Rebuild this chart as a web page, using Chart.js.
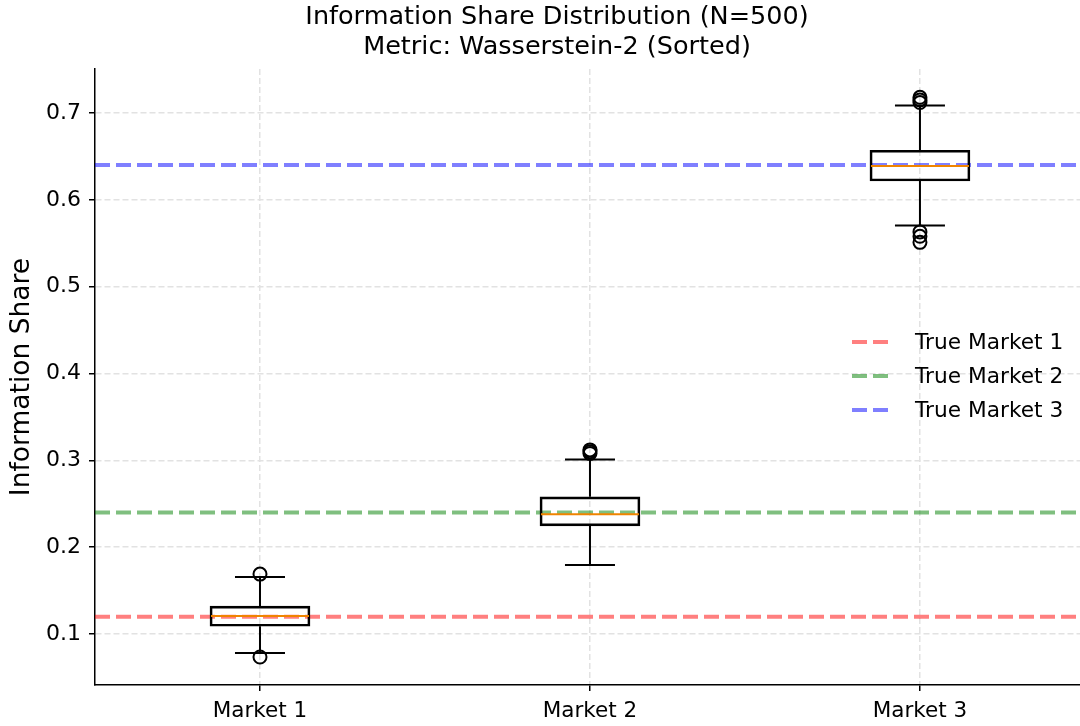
<!DOCTYPE html>
<html>
<head>
<meta charset="utf-8">
<script src="https://cdn.jsdelivr.net/npm/chart.js@4.4.1/dist/chart.umd.min.js"></script>
<style>
    html, body { margin: 0; padding: 0; background: #fff; }
    #wrap { width: 1080px; height: 726px; }
</style>
</head>
<body>
<div id="wrap"><canvas id="chart" width="1080" height="726"></canvas></div>
<script>
// --- Data ---
const categories = ['Market 1', 'Market 2', 'Market 3'];
const q1 = [0.109, 0.2246, 0.6216];
const medians = [0.1207, 0.238, 0.639];
const q3 = [0.1322, 0.258, 0.657];
const whiskerLow = [0.0781, 0.1794, 0.5703];
const whiskerHigh = [0.1656, 0.301, 0.7087];
const outliers = [
    [0.169, 0.0735],
    [0.308, 0.310, 0.312],
    [0.712, 0.715, 0.718, 0.563, 0.558, 0.551]
];
const trueLabels = ['True Market 1', 'True Market 2', 'True Market 3'];
const trueShares = [0.12, 0.24, 0.64];
const trueColors = ['rgba(255,0,0,0.5)', 'rgba(0,128,0,0.5)', 'rgba(0,0,255,0.5)'];
const yTicks = [0.1, 0.2, 0.3, 0.4, 0.5, 0.6, 0.7];

const titleLines = ['Information Share Distribution (N=500)', 'Metric: Wasserstein-2 (Sorted)'];
const yLabel = 'Information Share';

const FONT = '"DejaVu Sans", sans-serif';
const X_MIN = 0.5, X_MAX = 3.485;

// --- Datasets ---
const trueLineSets = trueShares.map((v, i) => ({
    type: 'line',
    label: trueLabels[i],
    data: [{ x: X_MIN, y: v }, { x: X_MAX, y: v }],
    borderColor: trueColors[i],
    borderWidth: 4,
    borderDash: [15, 6],
    pointRadius: 0,
    order: 3
}));

const boxSet = {
    type: 'bar',
    label: 'box',
    data: categories.map((c, i) => ({ x: i + 1, y: [q1[i], q3[i]] })),
    backgroundColor: 'rgba(0,0,0,0)',
    borderColor: '#000',
    borderWidth: 2,
    borderSkipped: false,
    barThickness: 100,
    order: 1
};

const outlierSet = {
    type: 'scatter',
    label: 'outliers',
    data: outliers.flatMap((arr, i) => arr.map(v => ({ x: i + 1, y: v }))),
    pointStyle: 'circle',
    pointRadius: 6.5,
    pointBorderWidth: 2,
    pointBorderColor: '#000',
    pointBackgroundColor: 'rgba(0,0,0,0)',
    order: 0
};

// --- Plugins ---
const boxParts = {
    id: 'boxParts',
    afterDatasetsDraw(chart) {
        const ctx = chart.ctx;
        const y = chart.scales.y;
        const meta = chart.getDatasetMeta(chart.data.datasets.indexOf(boxSet));
        ctx.save();
        meta.data.forEach((bar, i) => {
            const cx = bar.x;
            const half = bar.width / 2;
            ctx.strokeStyle = '#000';
            ctx.lineWidth = 2;
            ctx.beginPath();
            // whiskers
            ctx.moveTo(cx, y.getPixelForValue(q1[i]));
            ctx.lineTo(cx, y.getPixelForValue(whiskerLow[i]));
            ctx.moveTo(cx, y.getPixelForValue(q3[i]));
            ctx.lineTo(cx, y.getPixelForValue(whiskerHigh[i]));
            // caps
            ctx.moveTo(cx - half / 2, y.getPixelForValue(whiskerLow[i]));
            ctx.lineTo(cx + half / 2, y.getPixelForValue(whiskerLow[i]));
            ctx.moveTo(cx - half / 2, y.getPixelForValue(whiskerHigh[i]));
            ctx.lineTo(cx + half / 2, y.getPixelForValue(whiskerHigh[i]));
            ctx.stroke();
            // median
            ctx.strokeStyle = '#f08400';
            ctx.beginPath();
            ctx.moveTo(cx - half + 1, y.getPixelForValue(medians[i]));
            ctx.lineTo(cx + half - 1, y.getPixelForValue(medians[i]));
            ctx.stroke();
        });
        ctx.restore();
    }
};

const textParts = {
    id: 'textParts',
    afterDraw(chart) {
        const ctx = chart.ctx;
        const area = chart.chartArea;
        ctx.save();
        ctx.fillStyle = '#000';
        // title
        ctx.font = '25.5px ' + FONT;
        ctx.textAlign = 'center';
        ctx.textBaseline = 'middle';
        ctx.fillText(titleLines[0], 557, 17);
        ctx.fillText(titleLines[1], 557, 47);
        // y label
        ctx.save();
        ctx.font = '26.5px ' + FONT;
        ctx.translate(22, (area.top + area.bottom) / 2);
        ctx.rotate(-Math.PI / 2);
        ctx.fillText(yLabel, 0, 0);
        ctx.restore();
        // legend
        ctx.font = '21.7px ' + FONT;
        ctx.textAlign = 'left';
        trueLineSets.forEach((ds, i) => {
            const ly = 342 + i * 34;
            ctx.strokeStyle = ds.borderColor;
            ctx.lineWidth = 4;
            ctx.setLineDash([15, 6]);
            ctx.beginPath();
            ctx.moveTo(852, ly);
            ctx.lineTo(892, ly);
            ctx.stroke();
            ctx.setLineDash([]);
            ctx.fillText(ds.label, 915, ly + 1);
        });
        ctx.restore();
    }
};

const gridOpts = {
    offset: false,
    color: '#e2e2e2',
    lineWidth: 1.5,
    tickColor: '#000',
    tickLength: 6,
    tickBorderDash: [],
    tickWidth: 1.5
};

// --- Chart ---
new Chart(document.getElementById('chart'), {
    data: { datasets: [...trueLineSets, boxSet, outlierSet] },
    options: {
        responsive: false,
        animation: false,
        devicePixelRatio: 1,
        layout: { autoPadding: false, padding: { top: 69, right: 0, bottom: 0, left: 0 } },
        plugins: { legend: { display: false }, tooltip: { enabled: false } },
        scales: {
            x: {
                type: 'linear',
                min: X_MIN,
                max: X_MAX,
                offset: false,
                afterBuildTicks: scale => { scale.ticks = categories.map((c, i) => ({ value: i + 1 })); },
                afterFit: scale => {
                    scale.height = 41;
                    scale.paddingLeft = 0;
                    scale.paddingRight = 0;
                },
                ticks: {
                    callback: v => categories[v - 1],
                    color: '#000',
                    font: { family: FONT, size: 21.5 },
                    padding: 8,
                    maxRotation: 0
                },
                grid: gridOpts,
                border: { display: true, color: '#000', width: 1.5, dash: [6, 3] }
            },
            y: {
                type: 'linear',
                min: 0.0413,
                max: 0.7506,
                afterBuildTicks: scale => { scale.ticks = yTicks.map(v => ({ value: v })); },
                afterFit: scale => {
                    scale.width = 95;
                    scale.paddingTop = 0;
                    scale.paddingBottom = 0;
                },
                ticks: {
                    callback: v => v.toFixed(1),
                    color: '#000',
                    font: { family: FONT, size: 22 },
                    padding: 8
                },
                grid: gridOpts,
                border: { display: true, color: '#000', width: 1.5, dash: [6, 3] }
            }
        }
    },
    plugins: [boxParts, textParts]
});
</script>
</body>
</html>
